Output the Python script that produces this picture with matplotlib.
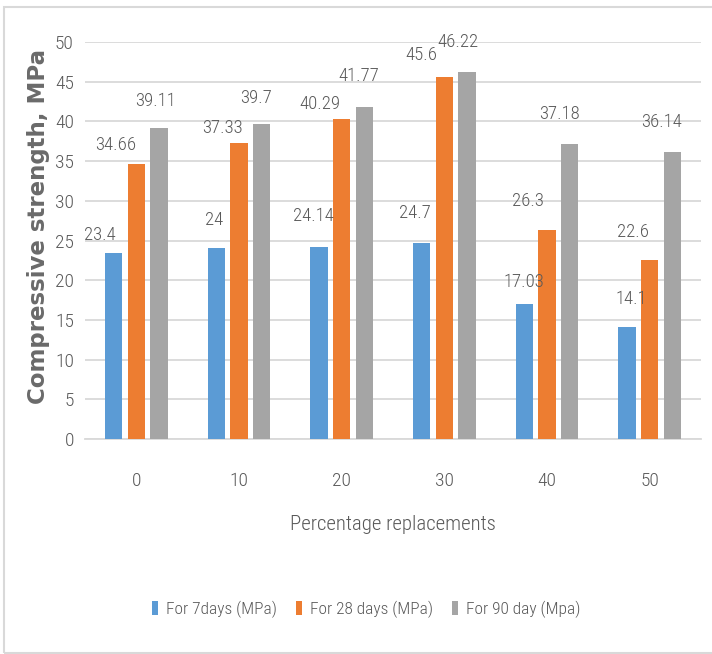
import matplotlib.pyplot as plt
import numpy as np
from matplotlib.patches import Rectangle
from matplotlib import font_manager

categories = ['0', '10', '20', '30', '40', '50']
days7 = [23.4, 24, 24.14, 24.7, 17.03, 14.1]
days28 = [34.66, 37.33, 40.29, 45.6, 26.3, 22.6]
days90 = [39.11, 39.7, 41.77, 46.22, 37.18, 36.14]
series_names = ['For 7days (MPa)', 'For 28 days (MPa)', 'For 90 day (Mpa)']

# label offsets (pixels) from each bar top, hand placed
off7 = [(-14, 18), (-2, 28), (-6, 31), (-7, 30), (0, 22), (4, 28)]
off28 = [(-21, 19), (-17, 15), (-22, 15), (-23, 22), (-19, 29), (-17, 28)]
off90 = [(-4, 27), (-6, 26), (-6, 31), (-9, 30), (-10, 30), (-11, 30)]

colors = ['#5B9BD5', '#ED7D31', '#A5A5A5']
txt = '#595959'
installed = {f.name for f in font_manager.fontManager.ttflist}
narrow = [f for f in ['Roboto Condensed', 'Liberation Sans Narrow', 'Liberation Sans']
          if f in installed]
lw = 'light'

fig = plt.figure(figsize=(7.12, 6.54), dpi=100)
fig.patches.append(Rectangle((4 / 712, 1 / 654), 1.0, 646 / 654, transform=fig.transFigure,
                             fill=False, edgecolor='#d9d9d9', linewidth=1.5))
ax = fig.add_axes([85 / 712, 215 / 654, 616 / 712, 397 / 654])

x = np.arange(len(categories))
width = 0.17
step = 0.221
for i, (vals, offs) in enumerate([(days7, off7), (days28, off28), (days90, off90)]):
    pos = x + (i - 1) * step
    ax.bar(pos, vals, width, color=colors[i], label=series_names[i], zorder=3)
    for px, v, (dx, dy) in zip(pos, vals, offs):
        ax.annotate(str(v), xy=(px, v), xytext=(dx, dy), textcoords='offset pixels',
                    ha='center', va='center', fontsize=13.5, color=txt, family=narrow,
                    fontweight=lw, zorder=6)

ax.set_xlim(-0.5, len(categories) - 0.5)
ax.set_ylim(0, 50)
ax.set_yticks(range(0, 51, 5))
ax.set_xticks(x)
ax.set_xticklabels(categories)
ax.yaxis.grid(True, color='#d9d9d9', linewidth=1.3, zorder=0)
for s in ['top', 'right', 'left']:
    ax.spines[s].set_visible(False)
ax.spines['bottom'].set_color('#d9d9d9')
ax.spines['bottom'].set_linewidth(1.3)
ax.tick_params(length=0, colors=txt, labelsize=14)
ax.tick_params(axis='x', pad=24)
ax.tick_params(axis='y', pad=8)
for lab in ax.get_xticklabels() + ax.get_yticklabels():
    lab.set_family(narrow)
    lab.set_fontweight(lw)

ax.set_xlabel('Percentage replacements', fontsize=15, color=txt, family=narrow,
              fontweight=lw, labelpad=18)
fig.text(39 / 712, 1 - 226 / 654, 'Compressive strength, MPa', rotation=90, ha='center',
         va='center', fontsize=16.5, color='#6a6a6a', family='DejaVu Sans', fontweight='bold')

ax.legend(loc='center', bbox_to_anchor=(366 / 712, 1 - 609 / 654), bbox_transform=fig.transFigure,
          ncol=3, frameon=False, handlelength=0.35, handleheight=0.9, handletextpad=0.45,
          columnspacing=1.1, prop={'family': narrow, 'size': 12.5, 'weight': lw},
          labelcolor=txt)

fig.savefig('out.png', dpi=100)
